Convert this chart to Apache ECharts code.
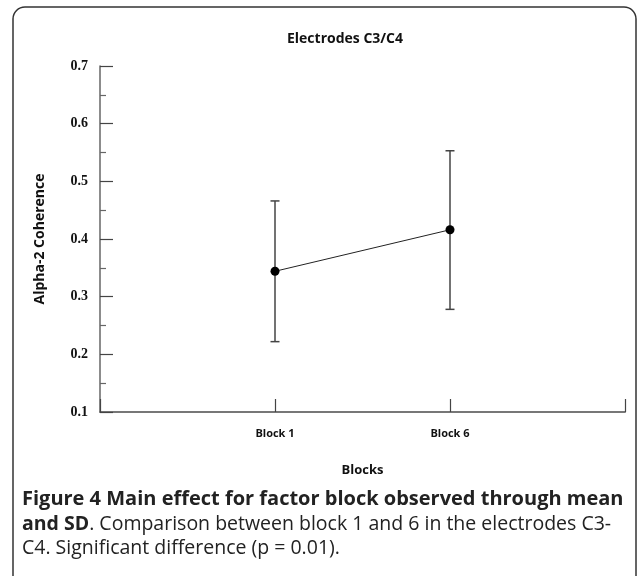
<!DOCTYPE html>
<html>
<head>
<meta charset="utf-8">
<script src="https://cdn.jsdelivr.net/npm/echarts@6/dist/echarts.min.js"></script>
<style>
  html, body { margin: 0; padding: 0; background: #fff; }
  #main { width: 637px; height: 576px; }
</style>
</head>
<body>
<div id="main"></div>
<script>
// categories: empty slots at both ends so the blocks sit on ticks 1 and 2
var categories = ['', 'Block 1', 'Block 6', '']
var means = [null, 0.344, 0.416, null]
var lower = [null, 0.222, 0.278, null]
var upper = [null, 0.466, 0.553, null]
var yTicks = [0.1, 0.2, 0.3, 0.4, 0.5, 0.6, 0.7]

var errData = []
for (var i = 0; i < categories.length; i++) {
  if (means[i] !== null) errData.push([i, lower[i], upper[i]])
}

var chart = echarts.init(document.getElementById('main'))
chart.setOption({
  animation: false,
  title: {
    text: 'Electrodes C3/C4',
    left: 340,
    textAlign: 'center',
    top: 27,
    textStyle: { fontFamily: 'Open Sans', fontWeight: 'bold', fontSize: 14, color: '#111' }
  },
  grid: { left: 100, right: 12, top: 66, bottom: 164 },
  xAxis: {
    type: 'category',
    data: categories,
    boundaryGap: false,
    name: 'Blocks',
    nameLocation: 'middle',
    nameGap: 52,
    nameTextStyle: { fontFamily: 'Open Sans', fontWeight: 'bold', fontSize: 13, color: '#111' },
    axisLine: { lineStyle: { color: '#777', width: 2 } },
    axisTick: { inside: true, length: 13, lineStyle: { color: '#444', width: 1.2 } },
    axisLabel: { margin: 16, fontFamily: 'Open Sans', fontWeight: 'bold', fontSize: 11, color: '#111' },
    splitLine: { show: false }
  },
  yAxis: {
    type: 'value',
    min: yTicks[0],
    max: yTicks[yTicks.length - 1],
    interval: 0.1,
    name: 'Alpha-2 Coherence',
    nameLocation: 'middle',
    nameGap: 53,
    nameTextStyle: { fontFamily: 'Open Sans', fontWeight: 'bold', fontSize: 14, color: '#111' },
    axisLine: { show: true, lineStyle: { color: '#666', width: 1.5 } },
    axisTick: { show: true, inside: true, length: 13, lineStyle: { color: '#444', width: 1.2 } },
    minorTick: { show: true, splitNumber: 2, length: 6, lineStyle: { color: '#666', width: 1.2 } },
    axisLabel: {
      margin: 12,
      fontFamily: 'Liberation Serif',
      fontWeight: 'bold',
      fontSize: 14,
      color: '#111',
      formatter: function (v) { return v.toFixed(1) }
    },
    splitLine: { show: false }
  },
  series: [
    {
      type: 'custom',
      data: errData,
      renderItem: function (params, api) {
        var x = api.value(0)
        var lo = api.coord([x, api.value(1)])
        var hi = api.coord([x, api.value(2)])
        var cap = 4.5
        var style = { stroke: '#444', lineWidth: 1.5 }
        return {
          type: 'group',
          children: [
            { type: 'line', shape: { x1: hi[0], y1: hi[1], x2: lo[0], y2: lo[1] }, style: style },
            { type: 'line', shape: { x1: hi[0] - cap, y1: hi[1], x2: hi[0] + cap, y2: hi[1] }, style: style },
            { type: 'line', shape: { x1: lo[0] - cap, y1: lo[1], x2: lo[0] + cap, y2: lo[1] }, style: style }
          ]
        }
      },
      z: 2
    },
    {
      type: 'line',
      data: means,
      connectNulls: false,
      symbol: 'circle',
      symbolSize: 9,
      itemStyle: { color: '#000' },
      lineStyle: { color: '#222', width: 1 },
      z: 3
    }
  ],
  graphic: [
    {
      type: 'rect',
      shape: { x: 13, y: 7, width: 623, height: 600, r: 12 },
      style: { fill: 'none', stroke: '#333', lineWidth: 1.5 },
      silent: true
    },
    {
      type: 'text',
      left: 22,
      top: 489,
      style: {
        text: 'Figure 4 Main effect for factor block observed through mean',
        font: 'bold 20px "Open Sans"',
        fill: '#222'
      }
    },
    {
      type: 'text',
      left: 22,
      top: 514,
      style: {
        text: '{b|and SD}{r|. Comparison between block 1 and 6 in the electrodes C3-}',
        rich: {
          b: { font: 'bold 19.5px "Open Sans"', fill: '#222' },
          r: { font: '19.5px "Open Sans"', fill: '#222' }
        }
      }
    },
    {
      type: 'text',
      left: 22,
      top: 538,
      style: {
        text: 'C4. Significant difference (p = 0.01).',
        font: '19.5px "Open Sans"',
        fill: '#222'
      }
    }
  ]
})
</script>
</body>
</html>
